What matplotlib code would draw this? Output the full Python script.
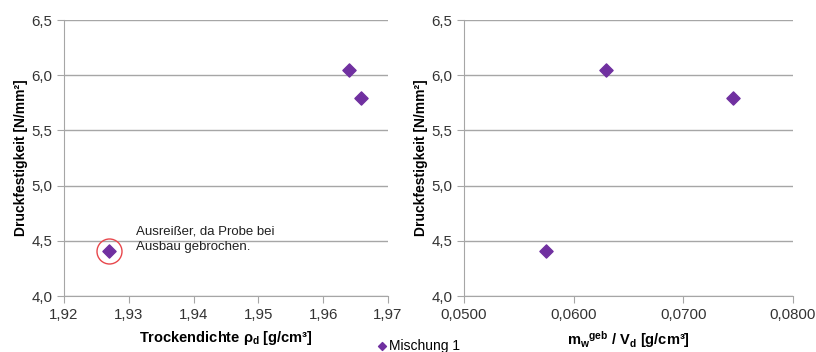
import matplotlib.pyplot as plt
from matplotlib.ticker import FuncFormatter

plt.rcParams['font.family'] = ['Liberation Sans', 'DejaVu Sans']
plt.rcParams['mathtext.fontset'] = 'custom'
plt.rcParams['mathtext.rm'] = 'Liberation Sans:bold'
plt.rcParams['mathtext.default'] = 'rm'

# Data
festigkeit = [4.41, 6.05, 5.79]            # Druckfestigkeit [N/mm²]
trockendichte = [1.9270, 1.9640, 1.9658]   # rho_d [g/cm³]
wasser_geb = [0.0575, 0.0630, 0.0745]      # m_w^geb / V_d [g/cm³]
series_name = "Mischung 1"
note = "Ausreißer, da Probe bei\nAusbau gebrochen."

purple = '#7030A0'
grid_c = '#A6A6A6'

fig = plt.figure(figsize=(8.16, 3.52), dpi=100)
ax1 = fig.add_axes([0.0784, 0.159, 0.397, 0.784])
ax2 = fig.add_axes([0.5686, 0.159, 0.403, 0.784])


def comma(dec):
    return FuncFormatter(lambda v, p: f"{v:.{dec}f}".replace('.', ','))


for ax, xs, xlim, xstep, xdec, xlabel in [
    (ax1, trockendichte, (1.92, 1.97), 0.01, 2, 'Trockendichte ρ$_d$ [g/cm³]'),
    (ax2, wasser_geb, (0.05, 0.08), 0.01, 4, 'm$_w$$^{geb}$ / V$_d$ [g/cm³]'),
]:
    ax.scatter(xs, festigkeit, marker='D', s=45, color=purple, zorder=3,
               label=series_name)
    ax.set_xlim(*xlim)
    ax.set_ylim(4.0, 6.5)
    ax.set_xticks([xlim[0] + i * xstep for i in range(round((xlim[1] - xlim[0]) / xstep) + 1)])
    ax.set_yticks([4.0, 4.5, 5.0, 5.5, 6.0, 6.5])
    ax.xaxis.set_major_formatter(comma(xdec))
    ax.yaxis.set_major_formatter(comma(1))
    ax.grid(axis='y', color=grid_c, linewidth=1)
    ax.set_axisbelow(True)
    for s in ['top', 'right']:
        ax.spines[s].set_visible(False)
    for s in ['left', 'bottom']:
        ax.spines[s].set_color(grid_c)
    ax.tick_params(axis='both', colors=grid_c, labelcolor='#333333',
                   labelsize=10.8, length=5, direction='out')
    ax.set_ylabel('Druckfestigkeit [N/mm²]', fontsize=10, fontweight='bold', labelpad=2)
    ax.set_xlabel(xlabel, fontsize=10.5, fontweight='bold', labelpad=5)

# outlier marker and note
ax1.plot(trockendichte[0], festigkeit[0], 'o', ms=18, mfc='none', mec='#E8474C',
         mew=1, zorder=4)
ax1.text(1.9311, 4.64, note, fontsize=9.5, color='#202020', va='top', ha='left',
         linespacing=1.4)

fig.legend(*ax1.get_legend_handles_labels(), loc='lower center',
           bbox_to_anchor=(0.512, -0.038), frameon=False, fontsize=10,
           handletextpad=0.0, handlelength=1.0, markerscale=0.6)

fig.savefig('out.png', dpi=100)
